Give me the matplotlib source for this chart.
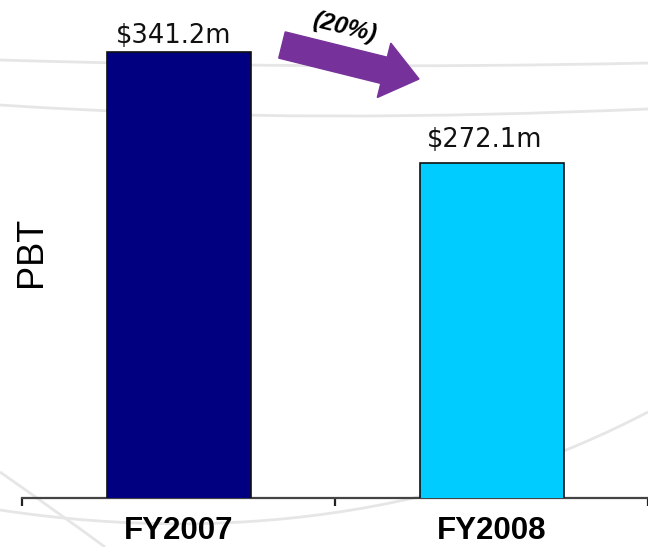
import matplotlib
matplotlib.use("Agg")
import matplotlib.pyplot as plt
import matplotlib.patches as mpatches
from matplotlib.path import Path
from matplotlib.transforms import IdentityTransform

# ---- data ----
categories = ["FY2007", "FY2008"]
values = [341.2, 272.1]
value_labels = ["$341.2m", "$272.1m"]
bar_colors = ["#000080", "#00CCFF"]
change_label = "(20%)"
y_label = "PBT"

W, H = 648, 547
fig = plt.figure(figsize=(W / 100, H / 100), dpi=100)
fig.patch.set_facecolor("white")

# decorative faint background curves (figure pixel coords, y from top)
def px(x, y):
    return (x / W, 1 - y / H)

curves = [
    [(0, 60), (200, 66), (420, 68), (648, 63)],
    [(0, 105), (230, 120), (430, 118), (648, 109)],
    [(0, 510), (250, 548), (470, 505), (648, 412)],
    [(0, 472), (40, 500), (75, 525), (105, 547)],
]
for c in curves:
    verts = [px(*p) for p in c]
    path = Path(verts, [Path.MOVETO, Path.CURVE4, Path.CURVE4, Path.CURVE4])
    fig.patches.append(mpatches.PathPatch(path, transform=fig.transFigure,
                                          fill=False, edgecolor="#e6e6e6",
                                          lw=2.0, zorder=0))

ax_left, ax_bottom = 22.4, 498.0
ax = fig.add_axes([ax_left / W, (H - ax_bottom) / H, (W - ax_left) / W, ax_bottom / H])
ax.set_zorder(2)
ax.patch.set_alpha(0)

x = list(range(len(categories)))
ax.bar(x, values, width=0.46, color=bar_colors, edgecolor="#111111", linewidth=1.2, zorder=3)

ax.set_xlim(-0.5, 1.475)
ax.set_ylim(62.3, 373.9)

for sp in ["top", "right", "left"]:
    ax.spines[sp].set_visible(False)
ax.spines["bottom"].set_color("#444444")
ax.spines["bottom"].set_linewidth(1.6)
ax.set_yticks([])

ax.set_xticks(x)
ax.set_xticklabels(categories, fontsize=22.5, fontweight="bold", family="Liberation Sans")
ax.tick_params(axis="x", which="major", length=0, pad=13)
ax.set_xticks([-0.5, 0.5, 1.5], minor=True)
ax.tick_params(axis="x", which="minor", length=6, width=1.6, color="#222222", direction="out")

# value labels
label_dx = [-4, -5]   # points
label_dy = [6.5, 11.5]
for i, (v, t) in enumerate(zip(values, value_labels)):
    ax.annotate(t, (x[i], v), xytext=(label_dx[i], label_dy[i]), textcoords="offset points",
                ha="center", va="baseline", fontsize=18.5, family="DejaVu Sans",
                color="#111111")

fig.text(31 / W, 1 - 252 / H, y_label, rotation=90, ha="center", va="center",
         fontsize=26, family="Liberation Sans", color="black", zorder=5)

# purple arrow (display pixels)
tail = (282, H - 45)
tip = (419, H - 79)
arrow = mpatches.FancyArrow(tail[0], tail[1], tip[0] - tail[0], tip[1] - tail[1],
                            width=27, head_width=56, head_length=36,
                            length_includes_head=True, color="#76329A",
                            transform=IdentityTransform(), zorder=5)
fig.patches.append(arrow)

fig.text(344 / W, 1 - 28 / H, change_label, rotation=-14, ha="center", va="center",
         fontsize=17.5, fontweight="bold", fontstyle="italic", family="Liberation Sans",
         color="black", rotation_mode="anchor", zorder=6)

fig.savefig("out.png", dpi=100)
